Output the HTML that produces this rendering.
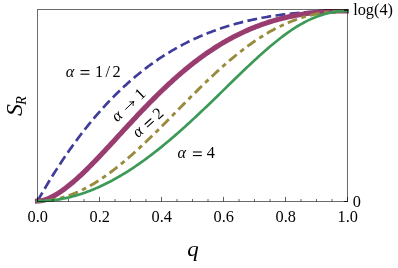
<!DOCTYPE html>
<html><head><meta charset="utf-8"><style>
html,body{margin:0;padding:0;background:#fff;}
body{width:398px;height:268px;overflow:hidden;}
svg{display:block;}
text{font-family:"Liberation Serif",serif;fill:#000;}
svg{will-change:transform;}
</style></head><body>
<svg width="398" height="268" viewBox="0 0 398 268">
<rect width="398" height="268" fill="#fff"/>
<clipPath id="c"><rect x="0" y="9" width="398" height="259"/></clipPath>
<g fill="none" stroke-linejoin="round" clip-path="url(#c)">
<path d="M37.50,201.10 L39.05,198.37 L40.60,195.67 L42.15,192.99 L43.70,190.34 L45.25,187.72 L46.80,185.12 L48.35,182.56 L49.90,180.01 L51.45,177.50 L53.00,175.01 L54.55,172.55 L56.10,170.11 L57.65,167.70 L59.20,165.31 L60.75,162.95 L62.30,160.61 L63.85,158.30 L65.40,156.02 L66.95,153.76 L68.50,151.52 L70.05,149.31 L71.60,147.13 L73.15,144.97 L74.70,142.83 L76.25,140.71 L77.80,138.63 L79.35,136.56 L80.90,134.52 L82.45,132.50 L84.00,130.50 L85.55,128.53 L87.10,126.58 L88.65,124.66 L90.20,122.75 L91.75,120.87 L93.30,119.02 L94.85,117.18 L96.40,115.37 L97.95,113.57 L99.50,111.80 L101.05,110.06 L102.60,108.33 L104.15,106.62 L105.70,104.94 L107.25,103.28 L108.80,101.64 L110.35,100.01 L111.90,98.41 L113.45,96.83 L115.00,95.27 L116.55,93.73 L118.10,92.22 L119.65,90.72 L121.20,89.24 L122.75,87.78 L124.30,86.33 L125.85,84.91 L127.40,83.51 L128.95,82.13 L130.50,80.76 L132.05,79.42 L133.60,78.09 L135.15,76.78 L136.70,75.49 L138.25,74.21 L139.80,72.96 L141.35,71.72 L142.90,70.50 L144.45,69.30 L146.00,68.11 L147.55,66.94 L149.10,65.79 L150.65,64.66 L152.20,63.54 L153.75,62.44 L155.30,61.35 L156.85,60.28 L158.40,59.23 L159.95,58.19 L161.50,57.17 L163.05,56.16 L164.60,55.17 L166.15,54.20 L167.70,53.24 L169.25,52.29 L170.80,51.36 L172.35,50.45 L173.90,49.55 L175.45,48.66 L177.00,47.79 L178.55,46.93 L180.10,46.08 L181.65,45.25 L183.20,44.43 L184.75,43.63 L186.30,42.84 L187.85,42.06 L189.40,41.30 L190.95,40.55 L192.50,39.81 L194.05,39.09 L195.60,38.37 L197.15,37.67 L198.70,36.98 L200.25,36.31 L201.80,35.64 L203.35,34.99 L204.90,34.35 L206.45,33.72 L208.00,33.11 L209.55,32.50 L211.10,31.90 L212.65,31.32 L214.20,30.75 L215.75,30.19 L217.30,29.64 L218.85,29.09 L220.40,28.56 L221.95,28.04 L223.50,27.54 L225.05,27.04 L226.60,26.55 L228.15,26.07 L229.70,25.60 L231.25,25.14 L232.80,24.69 L234.35,24.25 L235.90,23.81 L237.45,23.39 L239.00,22.98 L240.55,22.57 L242.10,22.18 L243.65,21.79 L245.20,21.41 L246.75,21.04 L248.30,20.68 L249.85,20.33 L251.40,19.98 L252.95,19.64 L254.50,19.31 L256.05,18.99 L257.60,18.68 L259.15,18.38 L260.70,18.08 L262.25,17.79 L263.80,17.50 L265.35,17.23 L266.90,16.96 L268.45,16.70 L270.00,16.44 L271.55,16.20 L273.10,15.96 L274.65,15.72 L276.20,15.49 L277.75,15.27 L279.30,15.06 L280.85,14.85 L282.40,14.65 L283.95,14.46 L285.50,14.27 L287.05,14.08 L288.60,13.91 L290.15,13.74 L291.70,13.57 L293.25,13.41 L294.80,13.26 L296.35,13.11 L297.90,12.97 L299.45,12.83 L301.00,12.70 L302.55,12.57 L304.10,12.45 L305.65,12.33 L307.20,12.22 L308.75,12.12 L310.30,12.02 L311.85,11.92 L313.40,11.83 L314.95,11.74 L316.50,11.66 L318.05,11.58 L319.60,11.51 L321.15,11.44 L322.70,11.38 L324.25,11.32 L325.80,11.26 L327.35,11.21 L328.90,11.16 L330.45,11.12 L332.00,11.08 L333.55,11.05 L335.10,11.01 L336.65,10.99 L338.20,10.96 L339.75,10.94 L341.30,10.93 L342.85,10.92 L344.40,10.91 L345.95,10.90 L347.50,10.90 L348.70,10.90" stroke="#3f3d99" stroke-width="2.7" stroke-dasharray="9.85 4.43"/>
<path d="M37.50,201.10 L39.05,201.02 L40.60,200.82 L42.15,200.52 L43.70,200.13 L45.25,199.66 L46.80,199.12 L48.35,198.51 L49.90,197.84 L51.45,197.11 L53.00,196.31 L54.55,195.47 L56.10,194.58 L57.65,193.63 L59.20,192.64 L60.75,191.61 L62.30,190.53 L63.85,189.42 L65.40,188.27 L66.95,187.08 L68.50,185.86 L70.05,184.60 L71.60,183.32 L73.15,182.00 L74.70,180.66 L76.25,179.29 L77.80,177.89 L79.35,176.47 L80.90,175.03 L82.45,173.57 L84.00,172.08 L85.55,170.58 L87.10,169.06 L88.65,167.52 L90.20,165.97 L91.75,164.40 L93.30,162.82 L94.85,161.22 L96.40,159.61 L97.95,157.99 L99.50,156.37 L101.05,154.73 L102.60,153.08 L104.15,151.43 L105.70,149.77 L107.25,148.10 L108.80,146.43 L110.35,144.76 L111.90,143.08 L113.45,141.40 L115.00,139.71 L116.55,138.03 L118.10,136.34 L119.65,134.65 L121.20,132.97 L122.75,131.28 L124.30,129.60 L125.85,127.92 L127.40,126.24 L128.95,124.57 L130.50,122.90 L132.05,121.23 L133.60,119.57 L135.15,117.91 L136.70,116.26 L138.25,114.62 L139.80,112.98 L141.35,111.35 L142.90,109.73 L144.45,108.12 L146.00,106.52 L147.55,104.92 L149.10,103.33 L150.65,101.76 L152.20,100.19 L153.75,98.63 L155.30,97.09 L156.85,95.55 L158.40,94.03 L159.95,92.51 L161.50,91.01 L163.05,89.52 L164.60,88.05 L166.15,86.58 L167.70,85.13 L169.25,83.69 L170.80,82.27 L172.35,80.86 L173.90,79.46 L175.45,78.07 L177.00,76.70 L178.55,75.35 L180.10,74.00 L181.65,72.68 L183.20,71.36 L184.75,70.06 L186.30,68.78 L187.85,67.51 L189.40,66.25 L190.95,65.01 L192.50,63.79 L194.05,62.58 L195.60,61.39 L197.15,60.21 L198.70,59.04 L200.25,57.89 L201.80,56.76 L203.35,55.64 L204.90,54.54 L206.45,53.45 L208.00,52.38 L209.55,51.33 L211.10,50.29 L212.65,49.26 L214.20,48.25 L215.75,47.26 L217.30,46.28 L218.85,45.32 L220.40,44.37 L221.95,43.43 L223.50,42.52 L225.05,41.62 L226.60,40.73 L228.15,39.86 L229.70,39.00 L231.25,38.16 L232.80,37.33 L234.35,36.52 L235.90,35.73 L237.45,34.95 L239.00,34.18 L240.55,33.43 L242.10,32.69 L243.65,31.97 L245.20,31.26 L246.75,30.56 L248.30,29.88 L249.85,29.22 L251.40,28.57 L252.95,27.93 L254.50,27.30 L256.05,26.69 L257.60,26.10 L259.15,25.51 L260.70,24.94 L262.25,24.39 L263.80,23.84 L265.35,23.31 L266.90,22.80 L268.45,22.29 L270.00,21.80 L271.55,21.32 L273.10,20.86 L274.65,20.40 L276.20,19.96 L277.75,19.53 L279.30,19.12 L280.85,18.71 L282.40,18.32 L283.95,17.94 L285.50,17.57 L287.05,17.21 L288.60,16.86 L290.15,16.52 L291.70,16.20 L293.25,15.88 L294.80,15.58 L296.35,15.29 L297.90,15.01 L299.45,14.74 L301.00,14.48 L302.55,14.23 L304.10,13.99 L305.65,13.76 L307.20,13.54 L308.75,13.32 L310.30,13.12 L311.85,12.93 L313.40,12.75 L314.95,12.58 L316.50,12.41 L318.05,12.26 L319.60,12.11 L321.15,11.98 L322.70,11.85 L324.25,11.73 L325.80,11.62 L327.35,11.52 L328.90,11.42 L330.45,11.34 L332.00,11.26 L333.55,11.19 L335.10,11.13 L336.65,11.07 L338.20,11.03 L339.75,10.99 L341.30,10.96 L342.85,10.93 L344.40,10.91 L345.95,10.90 L346.35,10.90" stroke="#993d71" stroke-width="5.1" stroke-linecap="square"/>
<path d="M37.50,201.10 L39.05,201.09 L40.60,201.05 L42.15,200.98 L43.70,200.88 L45.25,200.76 L46.80,200.61 L48.35,200.43 L49.90,200.22 L51.45,199.99 L53.00,199.73 L54.55,199.44 L56.10,199.13 L57.65,198.79 L59.20,198.42 L60.75,198.03 L62.30,197.61 L63.85,197.16 L65.40,196.69 L66.95,196.19 L68.50,195.67 L70.05,195.12 L71.60,194.54 L73.15,193.94 L74.70,193.31 L76.25,192.66 L77.80,191.98 L79.35,191.28 L80.90,190.55 L82.45,189.80 L84.00,189.03 L85.55,188.23 L87.10,187.41 L88.65,186.56 L90.20,185.69 L91.75,184.80 L93.30,183.89 L94.85,182.95 L96.40,181.99 L97.95,181.02 L99.50,180.01 L101.05,178.99 L102.60,177.95 L104.15,176.89 L105.70,175.80 L107.25,174.70 L108.80,173.58 L110.35,172.44 L111.90,171.27 L113.45,170.10 L115.00,168.90 L116.55,167.68 L118.10,166.45 L119.65,165.20 L121.20,163.94 L122.75,162.66 L124.30,161.36 L125.85,160.05 L127.40,158.72 L128.95,157.38 L130.50,156.02 L132.05,154.65 L133.60,153.27 L135.15,151.87 L136.70,150.46 L138.25,149.04 L139.80,147.61 L141.35,146.16 L142.90,144.71 L144.45,143.24 L146.00,141.77 L147.55,140.28 L149.10,138.79 L150.65,137.29 L152.20,135.78 L153.75,134.26 L155.30,132.74 L156.85,131.21 L158.40,129.67 L159.95,128.13 L161.50,126.58 L163.05,125.03 L164.60,123.47 L166.15,121.91 L167.70,120.35 L169.25,118.78 L170.80,117.22 L172.35,115.65 L173.90,114.07 L175.45,112.50 L177.00,110.93 L178.55,109.35 L180.10,107.78 L181.65,106.21 L183.20,104.64 L184.75,103.07 L186.30,101.50 L187.85,99.94 L189.40,98.38 L190.95,96.83 L192.50,95.27 L194.05,93.73 L195.60,92.18 L197.15,90.65 L198.70,89.12 L200.25,87.59 L201.80,86.08 L203.35,84.57 L204.90,83.07 L206.45,81.57 L208.00,80.09 L209.55,78.61 L211.10,77.14 L212.65,75.69 L214.20,74.24 L215.75,72.80 L217.30,71.38 L218.85,69.96 L220.40,68.56 L221.95,67.17 L223.50,65.79 L225.05,64.43 L226.60,63.07 L228.15,61.73 L229.70,60.41 L231.25,59.10 L232.80,57.80 L234.35,56.52 L235.90,55.25 L237.45,54.00 L239.00,52.76 L240.55,51.54 L242.10,50.34 L243.65,49.15 L245.20,47.98 L246.75,46.82 L248.30,45.68 L249.85,44.56 L251.40,43.46 L252.95,42.37 L254.50,41.30 L256.05,40.25 L257.60,39.22 L259.15,38.20 L260.70,37.20 L262.25,36.22 L263.80,35.26 L265.35,34.32 L266.90,33.40 L268.45,32.50 L270.00,31.61 L271.55,30.75 L273.10,29.90 L274.65,29.07 L276.20,28.26 L277.75,27.47 L279.30,26.70 L280.85,25.95 L282.40,25.22 L283.95,24.51 L285.50,23.81 L287.05,23.14 L288.60,22.48 L290.15,21.85 L291.70,21.23 L293.25,20.63 L294.80,20.06 L296.35,19.50 L297.90,18.96 L299.45,18.43 L301.00,17.93 L302.55,17.45 L304.10,16.98 L305.65,16.53 L307.20,16.10 L308.75,15.69 L310.30,15.30 L311.85,14.93 L313.40,14.57 L314.95,14.23 L316.50,13.91 L318.05,13.60 L319.60,13.32 L321.15,13.05 L322.70,12.79 L324.25,12.56 L325.80,12.34 L327.35,12.13 L328.90,11.95 L330.45,11.77 L332.00,11.62 L333.55,11.48 L335.10,11.36 L336.65,11.25 L338.20,11.15 L339.75,11.08 L341.30,11.01 L342.85,10.96 L344.40,10.93 L345.95,10.91 L347.50,10.90 L348.70,10.90" stroke="#998b3d" stroke-width="2.9" stroke-dasharray="4.6 4.4 9.9 4.53" stroke-dashoffset="0.6"/>
<path d="M37.50,201.10 L39.05,201.09 L40.60,201.06 L42.15,201.02 L43.70,200.95 L45.25,200.87 L46.80,200.77 L48.35,200.65 L49.90,200.52 L51.45,200.36 L53.00,200.19 L54.55,199.99 L56.10,199.79 L57.65,199.56 L59.20,199.31 L60.75,199.05 L62.30,198.77 L63.85,198.47 L65.40,198.15 L66.95,197.81 L68.50,197.46 L70.05,197.09 L71.60,196.70 L73.15,196.29 L74.70,195.87 L76.25,195.43 L77.80,194.97 L79.35,194.49 L80.90,194.00 L82.45,193.49 L84.00,192.96 L85.55,192.41 L87.10,191.85 L88.65,191.27 L90.20,190.68 L91.75,190.06 L93.30,189.43 L94.85,188.79 L96.40,188.13 L97.95,187.45 L99.50,186.75 L101.05,186.04 L102.60,185.31 L104.15,184.57 L105.70,183.81 L107.25,183.03 L108.80,182.24 L110.35,181.43 L111.90,180.61 L113.45,179.77 L115.00,178.92 L116.55,178.05 L118.10,177.17 L119.65,176.27 L121.20,175.36 L122.75,174.43 L124.30,173.49 L125.85,172.53 L127.40,171.56 L128.95,170.58 L130.50,169.58 L132.05,168.56 L133.60,167.54 L135.15,166.50 L136.70,165.44 L138.25,164.37 L139.80,163.29 L141.35,162.20 L142.90,161.09 L144.45,159.97 L146.00,158.84 L147.55,157.70 L149.10,156.54 L150.65,155.37 L152.20,154.19 L153.75,153.00 L155.30,151.79 L156.85,150.57 L158.40,149.35 L159.95,148.11 L161.50,146.86 L163.05,145.60 L164.60,144.33 L166.15,143.04 L167.70,141.75 L169.25,140.45 L170.80,139.13 L172.35,137.81 L173.90,136.48 L175.45,135.14 L177.00,133.79 L178.55,132.43 L180.10,131.06 L181.65,129.68 L183.20,128.29 L184.75,126.90 L186.30,125.50 L187.85,124.09 L189.40,122.67 L190.95,121.25 L192.50,119.82 L194.05,118.38 L195.60,116.93 L197.15,115.48 L198.70,114.02 L200.25,112.56 L201.80,111.09 L203.35,109.62 L204.90,108.14 L206.45,106.66 L208.00,105.17 L209.55,103.68 L211.10,102.18 L212.65,100.68 L214.20,99.18 L215.75,97.68 L217.30,96.17 L218.85,94.66 L220.40,93.15 L221.95,91.64 L223.50,90.12 L225.05,88.61 L226.60,87.10 L228.15,85.58 L229.70,84.07 L231.25,82.56 L232.80,81.05 L234.35,79.54 L235.90,78.03 L237.45,76.53 L239.00,75.03 L240.55,73.54 L242.10,72.04 L243.65,70.56 L245.20,69.08 L246.75,67.60 L248.30,66.13 L249.85,64.67 L251.40,63.21 L252.95,61.77 L254.50,60.33 L256.05,58.90 L257.60,57.48 L259.15,56.07 L260.70,54.67 L262.25,53.28 L263.80,51.91 L265.35,50.55 L266.90,49.20 L268.45,47.86 L270.00,46.55 L271.55,45.24 L273.10,43.95 L274.65,42.68 L276.20,41.43 L277.75,40.19 L279.30,38.97 L280.85,37.77 L282.40,36.59 L283.95,35.43 L285.50,34.29 L287.05,33.18 L288.60,32.08 L290.15,31.01 L291.70,29.96 L293.25,28.94 L294.80,27.94 L296.35,26.96 L297.90,26.01 L299.45,25.09 L301.00,24.19 L302.55,23.32 L304.10,22.48 L305.65,21.66 L307.20,20.88 L308.75,20.12 L310.30,19.39 L311.85,18.69 L313.40,18.02 L314.95,17.38 L316.50,16.77 L318.05,16.19 L319.60,15.63 L321.15,15.11 L322.70,14.63 L324.25,14.17 L325.80,13.74 L327.35,13.34 L328.90,12.97 L330.45,12.64 L332.00,12.33 L333.55,12.05 L335.10,11.81 L336.65,11.59 L338.20,11.41 L339.75,11.25 L341.30,11.12 L342.85,11.03 L344.40,10.96 L345.95,10.91 L347.50,10.90 L347.55,10.90" stroke="#3d9956" stroke-width="2.7" stroke-linecap="square"/>
</g>
<g stroke-width="1" fill="none">
<rect x="37.5" y="9.5" width="310" height="192.00" stroke="#000" stroke-opacity="0.58"/>
<line x1="37.50" y1="201.50" x2="37.50" y2="196.90" stroke="#000" stroke-opacity="0.62"/><line x1="53.00" y1="201.50" x2="53.00" y2="199.00" stroke="#000" stroke-opacity="0.6"/><line x1="68.50" y1="201.50" x2="68.50" y2="199.00" stroke="#000" stroke-opacity="0.6"/><line x1="84.00" y1="201.50" x2="84.00" y2="199.00" stroke="#000" stroke-opacity="0.6"/><line x1="99.50" y1="201.50" x2="99.50" y2="196.90" stroke="#000" stroke-opacity="0.62"/><line x1="115.00" y1="201.50" x2="115.00" y2="199.00" stroke="#000" stroke-opacity="0.6"/><line x1="130.50" y1="201.50" x2="130.50" y2="199.00" stroke="#000" stroke-opacity="0.6"/><line x1="146.00" y1="201.50" x2="146.00" y2="199.00" stroke="#000" stroke-opacity="0.6"/><line x1="161.50" y1="201.50" x2="161.50" y2="196.90" stroke="#000" stroke-opacity="0.62"/><line x1="177.00" y1="201.50" x2="177.00" y2="199.00" stroke="#000" stroke-opacity="0.6"/><line x1="192.50" y1="201.50" x2="192.50" y2="199.00" stroke="#000" stroke-opacity="0.6"/><line x1="208.00" y1="201.50" x2="208.00" y2="199.00" stroke="#000" stroke-opacity="0.6"/><line x1="223.50" y1="201.50" x2="223.50" y2="196.90" stroke="#000" stroke-opacity="0.62"/><line x1="239.00" y1="201.50" x2="239.00" y2="199.00" stroke="#000" stroke-opacity="0.6"/><line x1="254.50" y1="201.50" x2="254.50" y2="199.00" stroke="#000" stroke-opacity="0.6"/><line x1="270.00" y1="201.50" x2="270.00" y2="199.00" stroke="#000" stroke-opacity="0.6"/><line x1="285.50" y1="201.50" x2="285.50" y2="196.90" stroke="#000" stroke-opacity="0.62"/><line x1="301.00" y1="201.50" x2="301.00" y2="199.00" stroke="#000" stroke-opacity="0.6"/><line x1="316.50" y1="201.50" x2="316.50" y2="199.00" stroke="#000" stroke-opacity="0.6"/><line x1="332.00" y1="201.50" x2="332.00" y2="199.00" stroke="#000" stroke-opacity="0.6"/><line x1="347.50" y1="201.50" x2="347.50" y2="196.90" stroke="#000" stroke-opacity="0.62"/>
</g>
<line x1="344" y1="10.1" x2="348.4" y2="10.1" stroke="#1a1a1a" stroke-width="1.6"/>
<line x1="344" y1="201.5" x2="348" y2="201.5" stroke="#1a1a1a" stroke-width="1"/>
<g font-size="16.3px">
<text transform="translate(37.80,221.9) scale(1.0,1.07)" text-anchor="middle">0.0</text><text transform="translate(99.80,221.9) scale(1.0,1.07)" text-anchor="middle">0.2</text><text transform="translate(161.80,221.9) scale(1.0,1.07)" text-anchor="middle">0.4</text><text transform="translate(223.80,221.9) scale(1.0,1.07)" text-anchor="middle">0.6</text><text transform="translate(285.80,221.9) scale(1.0,1.07)" text-anchor="middle">0.8</text><text transform="translate(347.80,221.9) scale(1.0,1.07)" text-anchor="middle">1.0</text>
<text x="353.2" y="14.7">log(4)</text>
<text x="352.8" y="206.8">0</text>
<text x="65.80" y="76.50" font-style="italic">α</text><rect x="80.50" y="70.03" width="8.9" height="1.1"/><rect x="80.50" y="73.63" width="8.9" height="1.1"/><text x="95.00" y="76.50">1</text><text x="105.40" y="76.50">/</text><text x="112.40" y="76.50">2</text>
<text x="177.50" y="157.90" font-style="italic">α</text><rect x="192.90" y="151.43" width="8.9" height="1.1"/><rect x="192.90" y="155.03" width="8.9" height="1.1"/><text x="206.70" y="157.90">4</text>
<g transform="translate(120.70,119.40) rotate(-43.5)"><text x="-4.60" y="0.00" font-style="italic">α</text><path d="M10.10,-4.00 H21.70 M18.40,-6.70 Q19.70,-4.70 21.90,-4.00 Q19.70,-3.30 18.40,-1.30" fill="none" stroke="#000" stroke-width="0.9"/><text x="27.50" y="0.00">1</text></g>
<g transform="translate(141.50,135.30) rotate(-42.0)"><text x="-4.60" y="0.00" font-style="italic">α</text><rect x="9.60" y="-6.47" width="8.9" height="1.1"/><rect x="9.60" y="-2.87" width="8.9" height="1.1"/><text x="23.00" y="0.00">2</text></g>
</g>
<g transform="translate(22.4,115.9) rotate(-90)" font-style="italic"><text x="0" y="0" font-size="24px">S</text><text x="11.0" y="3.6" font-size="14.5px">R</text></g>
<text transform="translate(187.3,256.3) scale(1,0.91)" font-size="23px" font-style="italic">q</text>
</svg>
</body></html>
